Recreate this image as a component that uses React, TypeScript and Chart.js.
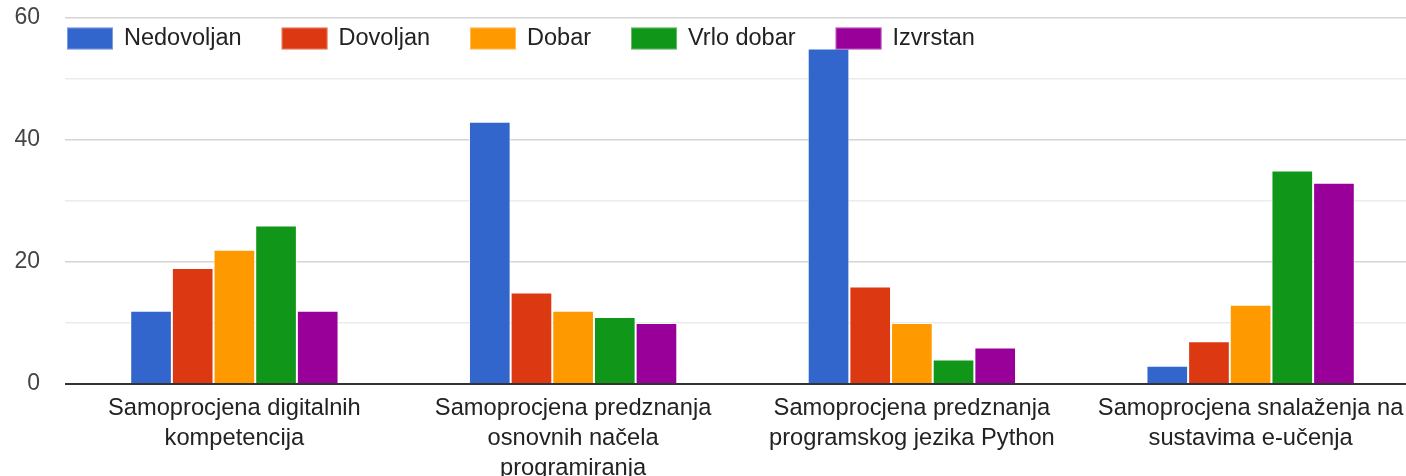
import React, { useEffect, useRef } from "react";
import { Chart, registerables } from "chart.js";

Chart.register(...registerables);

const categories = [
  ["Samoprocjena digitalnih", "kompetencija"],
  ["Samoprocjena predznanja", "osnovnih načela", "programiranja"],
  ["Samoprocjena predznanja", "programskog jezika Python"],
  ["Samoprocjena snalaženja na", "sustavima e-učenja"],
];
const seriesNames = ["Nedovoljan", "Dovoljan", "Dobar", "Vrlo dobar", "Izvrstan"];
const nedovoljan = [12, 43, 55, 3];
const dovoljan = [19, 15, 16, 7];
const dobar = [22, 12, 10, 13];
const vrloDobar = [26, 11, 4, 35];
const izvrstan = [12, 10, 6, 33];
const seriesColors = ["#3366cc", "#dc3912", "#ff9900", "#109618", "#990099"];
const yTickStep = 10;
const yMax = 60;

const FONT = "'Liberation Sans', Arial, sans-serif";
const FS = 23.7;
const LEGEND_FS = 23.5;

const insideLegend = {
  id: "insideLegend",
  afterDraw(chart: any) {
    const { ctx, chartArea } = chart;
    ctx.save();
    ctx.font = `${LEGEND_FS}px ${FONT}`;
    ctx.textBaseline = "middle";
    ctx.textAlign = "left";
    let x = chartArea.left + 2;
    const cy = chartArea.top + 20.5;
    chart.data.datasets.forEach((ds: any) => {
      ctx.fillStyle = ds.backgroundColor;
      ctx.fillRect(x, cy - 11, 46, 22);
      ctx.strokeStyle = "rgba(255,255,255,0.35)";
      ctx.lineWidth = 1;
      ctx.strokeRect(x + 0.5, cy - 10.5, 45, 21);
      ctx.fillStyle = "#222";
      ctx.fillText(ds.label, x + 57, cy);
      x += 57 + ctx.measureText(ds.label).width + 40;
    });
    ctx.restore();
  },
};

export default function App() {
  const ref = useRef<HTMLCanvasElement>(null);
  useEffect(() => {
    document.body.style.margin = "0";
    const values = [nedovoljan, dovoljan, dobar, vrloDobar, izvrstan];
    const chart = new Chart(ref.current!, {
      type: "bar",
      data: {
        labels: categories,
        datasets: seriesNames.map((name, i) => ({
          label: name,
          data: values[i],
          backgroundColor: seriesColors[i],
          borderColor: "rgba(255,255,255,0.85)",
          borderWidth: 1,
          barPercentage: 1,
          categoryPercentage: 0.615,
        })),
      },
      options: {
        responsive: false,
        animation: false,
        layout: { padding: { top: 18, right: 0, left: 0, bottom: 0 } },
        plugins: { legend: { display: false }, tooltip: { enabled: false } },
        scales: {
          x: {
            grid: { display: false },
            border: { display: false },
            ticks: {
              color: "#222",
              font: { family: FONT, size: FS, lineHeight: 30 / FS },
              padding: 1,
              maxRotation: 0,
              autoSkip: false,
            },
            afterFit: (s: any) => {
              s.height = 92;
              s.paddingTop = 0;
              s.paddingBottom = 0;
            },
          },
          y: {
            min: 0,
            max: yMax,
            border: { display: false },
            grid: {
              drawTicks: false,
              color: (c: any) =>
                c.tick.value === 0 ? "#333" : c.tick.value % 20 === 0 ? "#d4d4d4" : "#ebebeb",
              lineWidth: (c: any) => (c.tick.value === 0 ? 2 : 1.5),
            },
            ticks: {
              stepSize: yTickStep,
              color: "#444",
              padding: 25,
              font: { family: FONT, size: 23 },
              callback: (v: any) => (Number(v) % 20 === 0 ? String(v) : ""),
            },
            afterFit: (s: any) => {
              s.width = 65;
              s.paddingTop = 0;
              s.paddingBottom = 0;
            },
          },
        },
      },
      plugins: [insideLegend],
    });
    return () => chart.destroy();
  }, []);
  return (
    <div style={{ width: 1406, height: 476, overflow: "hidden" }}>
      <canvas ref={ref} width={1420} height={476} style={{ display: "block" }} />
    </div>
  );
}
